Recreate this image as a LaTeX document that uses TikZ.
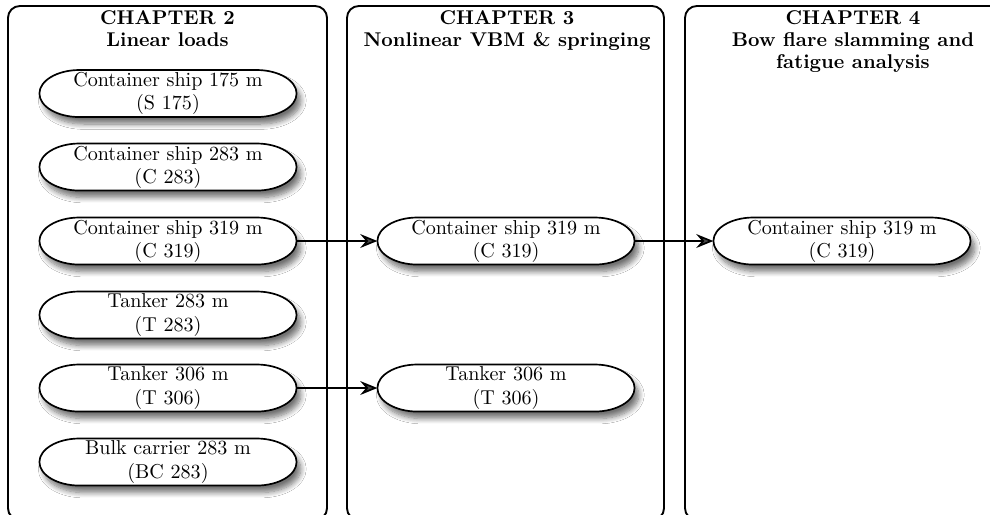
\documentclass[tikz,border=0pt]{standalone}
\usetikzlibrary{arrows.meta,shadows.blur}

\begin{document}
\begin{tikzpicture}[x=0.0187cm, y=-0.0187cm,
    chapter/.style ={draw, line width=1pt, rounded corners=2.2mm},
    heading/.style ={font=\fontsize{10.6}{11.8}\selectfont\bfseries, align=center, anchor=north, inner sep=0pt},
    ship/.style ={rectangle, align=center, font=\fontsize{10.7}{12.3}\selectfont,
      minimum width=4.8cm, minimum height=0.88cm, inner sep=1pt},
    hull/.style ={draw, line width=0.9pt, fill=white,
      blur shadow={shadow xshift=0.8mm, shadow yshift=-1.3mm, shadow blur radius=1mm,
        shadow blur steps=8, shadow opacity=55}},
    link/.style ={line width=0.9pt, -{Stealth[length=3.2mm, width=2.6mm, inset=1.1mm]}}]
   \clip (0,0) rectangle (990,514);
   \fill[white] (0,0) rectangle (990,514);
   % chapter frames
   \draw[chapter] (8,6) rectangle (327,520);
   \draw[chapter] (347,6) rectangle (664,520);
   \draw[chapter] (685,6) rectangle (1021,520);
   \node[heading] (h2) at (167.5,10) {CHAPTER 2\\Linear loads};
   \node[heading] (h3) at (507,10) {CHAPTER 3\\Nonlinear VBM \& springing};
   \node[heading] (h4) at (853,10) {CHAPTER 4\\Bow flare slamming and\\fatigue analysis};
   % ships: outline with elliptic ends, then the label node
   \foreach \n/\x/\y/\t in {
       s175/168/93.5/{Container ship 175 m\\(S 175)},
       c283/168/167/{Container ship 283 m\\(C 283)},
       c319/168/241/{Container ship 319 m\\(C 319)},
       t283/168/315/{Tanker 283 m\\(T 283)},
       t306/168/388/{Tanker 306 m\\(T 306)},
       bc283/168/462/{Bulk carrier 283 m\\(BC 283)},
       c319b/506/241/{Container ship 319 m\\(C 319)},
       t306b/506/388/{Tanker 306 m\\(T 306)},
       c319c/842/241/{Container ship 319 m\\(C 319)}}{
     \draw[hull] (\x,\y) ++(-88.5,-23.5) -- ++(177,0)
        arc[start angle=90, end angle=-90, x radius=0.75cm, y radius=0.44cm]
        -- ++(-177,0)
        arc[start angle=270, end angle=90, x radius=0.75cm, y radius=0.44cm] -- cycle;
     \node[ship] (\n) at (\x,\y) {\t};
   }
   \draw[link] (c319) to (c319b);
   \draw[link] (t306) to (t306b);
   \draw[link] (c319b) to (c319c);
\end{tikzpicture}
\end{document}
